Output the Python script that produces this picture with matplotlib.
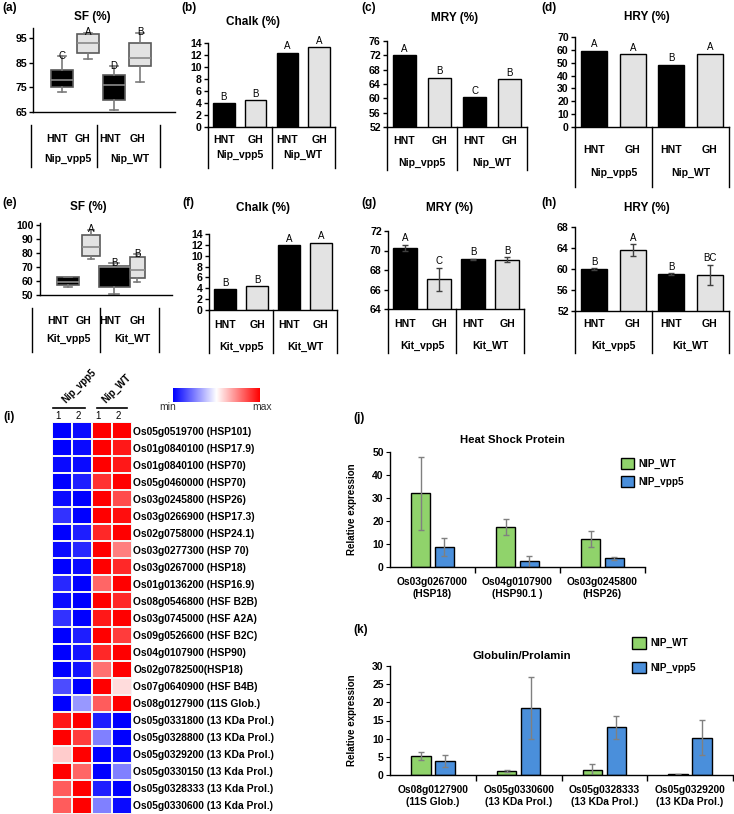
import numpy as np
import matplotlib.pyplot as plt

plt.rcParams['font.family'] = ['Liberation Sans', 'DejaVu Sans']
plt.rcParams['axes.linewidth'] = 1.0

W, H = 734, 814

# ---- data -------------------------------------------------------------------
treatments = ['HNT', 'GH', 'HNT', 'GH']
nip_lines = ['Nip_vpp5', 'Nip_WT']
kit_lines = ['Kit_vpp5', 'Kit_WT']

# SF (%) box plots: whisker low, Q1, median, Q3, whisker high
sf_nip_low = [73, 86.5, 66, 77]
sf_nip_q1 = [75, 89, 70, 83.5]
sf_nip_med = [78, 93, 76, 87]
sf_nip_q3 = [82, 96.5, 80, 93]
sf_nip_high = [87.5, 97, 83.5, 97]
sf_nip_letters = ['C', 'A', 'D', 'B']

sf_kit_low = [56, 75.5, 50.5, 59]
sf_kit_q1 = [57, 78, 56, 62]
sf_kit_med = [59.5, 84.5, 70, 67.5]
sf_kit_q3 = [62.5, 93, 71, 77]
sf_kit_high = [63, 96.5, 72.5, 79]
sf_kit_letters = ['', 'A', 'B', 'B']

chalk_nip = [4.0, 4.5, 12.4, 13.3]
chalk_nip_letters = ['B', 'B', 'A', 'A']
mry_nip = [72.0, 65.8, 60.3, 65.3]
mry_nip_letters = ['A', 'B', 'C', 'B']
hry_nip = [59.5, 56.5, 48.5, 57.0]
hry_nip_letters = ['A', 'A', 'B', 'A']

chalk_kit = [3.8, 4.4, 11.9, 12.4]
chalk_kit_letters = ['B', 'B', 'A', 'A']
mry_kit = [70.3, 67.05, 69.1, 69.05]
mry_kit_err = [0.3, 1.2, 0.05, 0.25]
mry_kit_letters = ['A', 'C', 'B', 'B']
hry_kit = [60.0, 63.6, 59.0, 58.9]
hry_kit_err = [0.15, 1.1, 0.15, 1.9]
hry_kit_letters = ['B', 'A', 'B', 'BC']

# heatmap (scaled 0 = min, 1 = max), columns: vpp5 1, vpp5 2, WT 1, WT 2
heat_genes = [
    'Os05g0519700 (HSP101)', 'Os01g0840100 (HSP17.9)', 'Os01g0840100 (HSP70)',
    'Os05g0460000 (HSP70)', 'Os03g0245800 (HSP26)', 'Os03g0266900 (HSP17.3)',
    'Os02g0758000 (HSP24.1)', 'Os03g0277300 (HSP 70)', 'Os03g0267000 (HSP18)',
    'Os01g0136200 (HSP16.9)', 'Os08g0546800 (HSF B2B)', 'Os03g0745000 (HSF A2A)',
    'Os09g0526600 (HSF B2C)', 'Os04g0107900 (HSP90)', 'Os02g0782500(HSP18)',
    'Os07g0640900 (HSF B4B)', 'Os08g0127900 (11S Glob.)',
    'Os05g0331800 (13 KDa Prol.)', 'Os05g0328800 (13 KDa Prol.)',
    'Os05g0329200 (13 KDa Prol.)', 'Os05g0330150 (13 Kda Prol.)',
    'Os05g0328333 (13 Kda Prol.)', 'Os05g0330600 (13 Kda Prol.)',
]
heat_cols = ['1', '2', '1', '2']
heat_values = [
    [0.00, 0.02, 1.00, 1.00],
    [0.00, 0.02, 1.00, 0.95],
    [0.02, 0.02, 1.00, 0.95],
    [0.00, 0.06, 0.90, 1.00],
    [0.02, 0.00, 1.00, 0.85],
    [0.10, 0.00, 1.00, 0.97],
    [0.00, 0.06, 0.92, 1.00],
    [0.02, 0.08, 1.00, 0.75],
    [0.00, 0.02, 1.00, 0.92],
    [0.08, 0.00, 0.80, 1.00],
    [0.02, 0.00, 1.00, 0.92],
    [0.10, 0.00, 0.95, 1.00],
    [0.00, 0.06, 1.00, 0.88],
    [0.00, 0.04, 0.92, 1.00],
    [0.00, 0.04, 0.78, 1.00],
    [0.15, 0.00, 1.00, 0.57],
    [0.00, 0.30, 0.82, 1.00],
    [0.95, 1.00, 0.06, 0.00],
    [1.00, 0.88, 0.25, 0.00],
    [0.60, 1.00, 0.00, 0.02],
    [1.00, 0.80, 0.00, 0.25],
    [0.82, 1.00, 0.06, 0.00],
    [0.82, 1.00, 0.25, 0.02],
]

hsp_genes = ['Os03g0267000\n(HSP18)', 'Os04g0107900\n(HSP90.1 )', 'Os03g0245800\n(HSP26)']
hsp_wt = [32.0, 17.5, 12.3]
hsp_wt_err = [15.7, 3.4, 3.4]
hsp_vpp5 = [8.7, 2.5, 3.7]
hsp_vpp5_err = [3.9, 2.4, 0.6]

glob_genes = ['Os08g0127900\n(11S Glob.)', 'Os05g0330600\n(13 KDa Prol.)',
              'Os05g0328333\n(13 KDa Prol.)', 'Os05g0329200\n(13 KDa Prol.)']
glob_wt = [5.2, 1.2, 1.3, 0.2]
glob_wt_err = [1.0, 0.3, 1.7, 0.1]
glob_vpp5 = [3.9, 18.5, 13.1, 10.3]
glob_vpp5_err = [1.7, 8.6, 3.1, 4.9]

fill = ['black', '#e3e3e3', 'black', '#e3e3e3']
green = '#90d36b'
blue = '#4a8fdb'

fig = plt.figure(figsize=(W / 100, H / 100), dpi=100)


def px_axes(left, top, right, bottom):
    return fig.add_axes([left / W, 1 - bottom / H, (right - left) / W, (bottom - top) / H])


def px_text(x, y, s, **kw):
    fig.text(x / W, 1 - y / H, s, **kw)


def frame(ax, h, line_x, y0, y1, lab_x, lab_y, grp_x, grp_y, groups):
    # Excel-style two-level category labels hanging under the axis
    tr = ax.get_xaxis_transform()
    for xv in line_x:
        ax.plot([xv, xv], [-y0 / h, -y1 / h], transform=tr, clip_on=False,
                color='black', lw=1)
    for xv, t in zip(lab_x, treatments):
        ax.text(xv, -lab_y / h, t, transform=tr, ha='center', va='center',
                fontsize=7.6, fontweight='bold')
    for xv, g in zip(grp_x, groups):
        ax.text(xv, -grp_y / h, g, transform=tr, ha='center', va='center',
                fontsize=7.6, fontweight='bold')


def style_axis(ax):
    for side in ['top', 'right']:
        ax.spines[side].set_visible(False)
    ax.tick_params(axis='y', direction='out', length=3, width=1, labelsize=7.6, pad=1.5)
    ax.tick_params(axis='x', length=0, labelbottom=False)
    for lab in ax.get_yticklabels():
        lab.set_fontweight('bold')


def bar_panel(box, values, letters, ylo, yhi, step, groups, frame_bottom,
              lab_y, grp_y, errs=None):
    left, top, right, bottom = box
    h = bottom - top
    ax = px_axes(*box)
    x = np.arange(4)
    ax.bar(x, values, width=0.68, color=fill, edgecolor='black', linewidth=1)
    tops = list(values)
    if errs is not None:
        ax.errorbar(x, values, yerr=errs, fmt='none', ecolor='#404040',
                    elinewidth=1, capsize=2.5, capthick=1)
        tops = [v + e for v, e in zip(values, errs)]
    for xi, t, letter in zip(x, tops, letters):
        ax.annotate(letter, (xi, t), xytext=(0, 1), textcoords='offset points',
                    ha='center', va='bottom', fontsize=7)
    ax.set_xlim(-0.5, 3.5)
    ax.set_ylim(ylo, yhi)
    ax.set_yticks(np.arange(ylo, yhi + step / 2, step))
    style_axis(ax)
    frame(ax, h, [-0.5, 1.5, 3.5], 0, frame_bottom - bottom, x, lab_y - bottom,
          [0.5, 2.5], grp_y - bottom, groups)
    return ax


def box_panel(box, low, q1, med, q3, high, letters, ylo, yhi, ticks, xlim,
              widths, groups, line_x, y0, y1, lab_x, lab_y, grp_x, grp_y):
    left, top, right, bottom = box
    h = bottom - top
    ax = px_axes(*box)
    stats = [dict(whislo=a, q1=b, med=c, q3=d, whishi=e)
             for a, b, c, d, e in zip(low, q1, med, q3, high)]
    art = ax.bxp(stats, positions=range(4), widths=widths, showfliers=False,
                 patch_artist=True, capwidths=[w * 0.35 for w in widths],
                 boxprops=dict(edgecolor='#5a5a5a', linewidth=1.2),
                 medianprops=dict(color='#8a8a8a', linewidth=1.2),
                 whiskerprops=dict(color='#7a7a7a', linewidth=1.2),
                 capprops=dict(color='#7a7a7a', linewidth=1.2))
    for patch, c in zip(art['boxes'], fill):
        patch.set_facecolor(c)
    for i, (t, letter) in enumerate(zip(high, letters)):
        ax.annotate(letter, (i, t), xytext=(0, 0.5), textcoords='offset points',
                    ha='center', va='center', fontsize=7)
    ax.set_xlim(*xlim)
    ax.set_ylim(ylo, yhi)
    ax.set_yticks(ticks)
    style_axis(ax)
    frame(ax, h, line_x, y0 - bottom, y1 - bottom, lab_x, lab_y - bottom,
          grp_x, grp_y - bottom, groups)
    return ax


# ---- (a) & (e): SF box plots -----------------------------------------------
box_panel((33, 28, 175, 112), sf_nip_low, sf_nip_q1, sf_nip_med, sf_nip_q3,
          sf_nip_high, sf_nip_letters, 65, 99, [65, 75, 85, 95], (-1.12, 4.35),
          [0.88] * 4, nip_lines, [-1.19, 1.35, 3.77], 125, 167,
          [-0.19, 0.77, 1.85, 2.92], 139, [0.23, 2.6], 159)
box_panel((40, 223, 172, 295), sf_kit_low, sf_kit_q1, sf_kit_med, sf_kit_q3,
          sf_kit_high, sf_kit_letters, 50, 101.4, [50, 60, 70, 80, 90, 100],
          (-1.22, 4.52), [0.95, 0.8, 1.35, 0.65], kit_lines,
          [-1.57, 1.39, 3.96], 308, 352, [-0.43, 0.65, 1.83, 3.04], 321,
          [0.0, 2.78], 339)

# ---- (b)-(d), (f)-(h): bar charts ------------------------------------------
bar_panel((208, 43, 335, 127), chalk_nip, chalk_nip_letters, 0, 14, 2,
          nip_lines, 168, 140, 155)
bar_panel((387, 41, 527, 127), mry_nip, mry_nip_letters, 52, 76, 4,
          nip_lines, 170, 141, 163)
bar_panel((575, 37, 729, 127), hry_nip, hry_nip_letters, 0, 70, 10,
          nip_lines, 187, 150, 173)
bar_panel((209, 234, 337, 310), chalk_kit, chalk_kit_letters, 0, 14, 2,
          kit_lines, 353, 325, 347)
bar_panel((388, 231, 524, 309), mry_kit, mry_kit_letters, 64, 72, 2,
          kit_lines, 353, 324, 346, errs=mry_kit_err)
bar_panel((575, 227, 729, 311), hry_kit, hry_kit_letters, 52, 68, 4,
          kit_lines, 353, 324, 346, errs=hry_kit_err)

titles = [(92, 17, 'SF (%)'), (253, 22, 'Chalk (%)'), (455, 18, 'MRY (%)'),
          (647, 17, 'HRY (%)'), (88, 207, 'SF (%)'), (263, 208, 'Chalk (%)'),
          (450, 208, 'MRY (%)'), (647, 208, 'HRY (%)')]
for tx, ty, s in titles:
    px_text(tx, ty, s, ha='center', va='center', fontsize=8.5, fontweight='bold')

tags = [(2, 8, '(a)'), (181, 8, '(b)'), (361, 8, '(c)'), (541, 8, '(d)'),
        (2, 203, '(e)'), (182, 203, '(f)'), (361, 203, '(g)'), (541, 203, '(h)'),
        (3, 417, '(i)'), (353, 418, '(j)'), (353, 630, '(k)')]
for tx, ty, s in tags:
    px_text(tx, ty, s, ha='left', va='center', fontsize=8.5, fontweight='bold')

# ---- (i): heatmap ----------------------------------------------------------
hm = px_axes(52, 422, 132, 814)
hm.pcolormesh(np.array(heat_values), cmap='bwr', vmin=0, vmax=1,
              edgecolors='#f4f4f4', linewidth=1.2)
hm.set_xlim(0, 4)
hm.set_ylim(len(heat_genes), 0)
hm.yaxis.tick_right()
hm.set_yticks(np.arange(len(heat_genes)) + 0.5)
hm.set_yticklabels(heat_genes, fontsize=7.4, fontweight='bold')
hm.xaxis.tick_top()
hm.set_xticks(np.arange(4) + 0.3)
hm.set_xticklabels(heat_cols, fontsize=7)
hm.tick_params(length=0, pad=1)
for s in hm.spines.values():
    s.set_visible(False)
for x0, x1, xt, name in [(0.05, 1.65, 0.75, nip_lines[0]), (2.25, 3.75, 2.75, nip_lines[1])]:
    hm.plot([x0, x1], [-0.85, -0.85], color='black', lw=1.2, clip_on=False)
    hm.text(xt, -1.0, name, rotation=45, rotation_mode='anchor', ha='left',
            va='bottom', fontsize=7, fontweight='bold')

cb = px_axes(173, 388, 260, 402)
cb.imshow(np.linspace(0, 1, 256).reshape(1, -1), cmap='bwr', aspect='auto')
cb.set_xticks([])
cb.set_yticks([])
for s in cb.spines.values():
    s.set_visible(False)
px_text(168, 407, 'min', ha='center', va='center', fontsize=7.5, color='#333333')
px_text(262, 407, 'max', ha='center', va='center', fontsize=7.5, color='#333333')


# ---- (j) & (k): relative expression ----------------------------------------
def expr_panel(box, genes, wt, wt_err, vp, vp_err, ymax, step, title, title_xy,
               leg_xy, leg_gap, leg_box):
    ax = px_axes(*box)
    x = np.arange(len(genes))
    ekw = dict(ecolor='#808080', elinewidth=1, capsize=2.5, capthick=1)
    ax.bar(x - 0.14, wt, 0.23, yerr=wt_err, color=green, edgecolor='black',
           linewidth=1, error_kw=ekw, label='NIP_WT')
    ax.bar(x + 0.14, vp, 0.23, yerr=vp_err, color=blue, edgecolor='black',
           linewidth=1, error_kw=ekw, label='NIP_vpp5')
    ax.set_xlim(-0.5, len(genes) - 0.5)
    ax.set_ylim(0, ymax)
    ax.set_yticks(np.arange(0, ymax + 1, step))
    ax.set_xticks(x)
    ax.set_xticklabels(genes, fontsize=7.4, fontweight='bold', linespacing=1.25)
    ax.set_xticks(np.arange(len(genes)) + 0.5, minor=True)
    ax.tick_params(axis='x', which='major', length=0, pad=7)
    ax.tick_params(axis='x', which='minor', length=4, width=1, direction='out')
    ax.tick_params(axis='y', length=3, direction='out', labelsize=7.5, pad=1.5)
    for lab in ax.get_yticklabels():
        lab.set_fontweight('bold')
    for side in ['top', 'right']:
        ax.spines[side].set_visible(False)
    ax.set_ylabel('Relative expression', fontsize=7, fontweight='bold')
    ax.yaxis.set_label_coords((357 - box[0]) / (box[2] - box[0]), 0.5)
    px_text(title_xy[0], title_xy[1], title, ha='center', va='center',
            fontsize=8.2, fontweight='bold')
    ax.legend(loc='upper left', bbox_to_anchor=(leg_xy[0] / W, 1 - leg_xy[1] / H),
              bbox_transform=fig.transFigure, frameon=False,
              prop=dict(size=7.2, weight='bold'), handlelength=leg_box,
              handleheight=leg_box, labelspacing=leg_gap, handletextpad=0.4,
              borderpad=0, borderaxespad=0)
    return ax


expr_panel((390, 452, 645, 567), hsp_genes, hsp_wt, hsp_wt_err, hsp_vpp5,
           hsp_vpp5_err, 50, 10, 'Heat Shock Protein', (512, 440), (621, 458),
           0.75, 1.3)
expr_panel((390, 666, 733, 775), glob_genes, glob_wt, glob_wt_err, glob_vpp5,
           glob_vpp5_err, 30, 5, 'Globulin/Prolamin', (522, 656), (632, 637),
           1.3, 1.4)

fig.savefig('out.png', dpi=100)
